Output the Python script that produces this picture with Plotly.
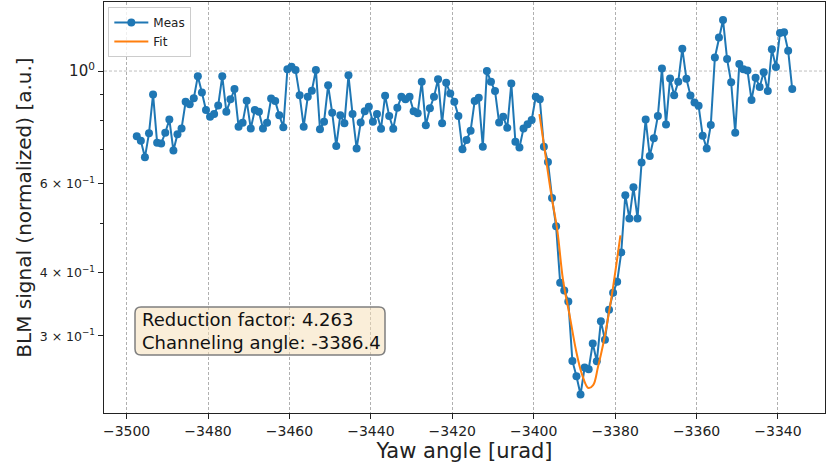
import plotly.graph_objects as go

# Yaw scan: start angle and step [urad]
yaw_start = -3497.5
yaw_step = 1.0

# Normalized BLM signal at each yaw step
blm_signal = [
    0.743, 0.728, 0.675, 0.753, 0.899, 0.721, 0.719, 0.755, 0.802, 0.696,
    0.750, 0.770, 0.869, 0.860, 0.883, 0.977, 0.907, 0.837, 0.812, 0.822,
    0.855, 0.977, 0.831, 0.879, 0.921, 0.776, 0.790, 0.873, 0.770, 0.837,
    0.831, 0.770, 0.790, 0.882, 0.872, 0.818, 0.774, 1.008, 1.020, 1.005,
    0.896, 0.776, 0.889, 0.914, 1.005, 0.767, 0.794, 0.937, 0.827, 0.711,
    0.818, 0.788, 0.981, 0.822, 0.703, 0.791, 0.833, 0.850, 0.794, 0.822,
    0.769, 0.894, 0.815, 0.769, 0.846, 0.889, 0.879, 0.889, 0.833, 0.825,
    0.952, 0.781, 0.844, 0.889, 0.963, 0.788, 0.948, 0.903, 0.869, 0.815,
    0.700, 0.730, 0.762, 0.872, 0.885, 0.708, 1.000, 0.952, 0.913, 0.791,
    0.812, 0.772, 0.945, 0.725, 0.706, 0.770, 0.785, 0.800, 0.889, 0.879,
    0.708, 0.661, 0.561, 0.493, 0.381, 0.368, 0.350, 0.267, 0.249, 0.229,
    0.259, 0.257, 0.289, 0.2665, 0.320, 0.294, 0.337, 0.364, 0.383, 0.4375,
    0.568, 0.511, 0.589, 0.511, 0.659, 0.802, 0.679, 0.736, 0.815, 1.012,
    0.784, 0.967, 0.896, 0.952, 1.107, 0.966, 0.895, 0.866, 0.854, 0.745,
    0.703, 0.782, 1.064, 1.165, 1.262, 1.056, 0.950, 0.755, 1.033, 1.008,
    1.003, 0.876, 0.970, 0.930, 0.995, 0.913, 1.104, 1.018, 1.189, 1.193,
    1.097, 0.921,
]
yaw_angle = [yaw_start + i * yaw_step for i in range(len(blm_signal))]

# Fitted channeling dip (sampled along the fitted curve)
fit_yaw = [-3398.6, -3397.3, -3395.6, -3394.2, -3392.8, -3391.1, -3389.6,
           -3388.2, -3386.6, -3385.4, -3384.2, -3382.9, -3381.7, -3380.5,
           -3378.7]
fit_signal = [0.822, 0.698, 0.564, 0.484, 0.386, 0.326, 0.280, 0.252,
              0.236, 0.239, 0.260, 0.289, 0.326, 0.374, 0.473]

reduction_factor = 4.263
channeling_angle = -3386.4

x_ticks = [-3500, -3480, -3460, -3440, -3420, -3400, -3380, -3360, -3340]
y_major = [0.3, 0.4, 0.6, 1.0]
y_major_text = ["3 × 10<sup>−1</sup>", "4 × 10<sup>−1</sup>",
                "6 × 10<sup>−1</sup>", "10<sup>0</sup>"]
y_minor = [0.5, 0.7, 0.8, 0.9]

BLUE = "#1f77b4"
ORANGE = "#ff7f0e"
FONT = "DejaVu Sans"

W, H = 827, 469
ML, MR, MT, MB = 104, 2, 2, 56
PW, PH = W - ML - MR, H - MT - MB

fig = go.Figure()
fig.add_trace(go.Scatter(
    x=yaw_angle, y=blm_signal, name="Meas", mode="lines+markers",
    line=dict(color=BLUE, width=2),
    marker=dict(color=BLUE, size=8),
))
fig.add_trace(go.Scatter(
    x=fit_yaw, y=fit_signal, name="Fit", mode="lines",
    line=dict(color=ORANGE, width=2, shape="spline"),
))

# The 10^0 label is drawn larger than the in-decade labels
y_text = [("<span style='font-size:12.5px'>%s</span>" % t) if v < 1 else t
          for v, t in zip(y_major, y_major_text)]

GRID = "#b0b0b0"
fig.update_layout(
    width=W, height=H,
    margin=dict(l=ML, r=MR, t=MT, b=MB),
    paper_bgcolor="white", plot_bgcolor="white",
    font=dict(family=FONT, color="#222"),
    showlegend=True,
    legend=dict(
        x=0.006, y=0.988, xanchor="left", yanchor="top",
        bgcolor="rgba(255,255,255,0.8)", bordercolor="#cccccc", borderwidth=1,
        font=dict(size=12, family=FONT), itemwidth=34,
        tracegroupgap=0,
    ),
    xaxis=dict(
        range=[-3505.55, -3328.45],
        tickmode="array", tickvals=x_ticks,
        ticktext=[str(t).replace("-", "−") for t in x_ticks],
        tickfont=dict(size=14, family=FONT),
        ticks="outside", ticklen=5, tickcolor="#222", tickwidth=1,
        showgrid=True, gridcolor=GRID, griddash="3px,2px", gridwidth=0.8,
        showline=True, linecolor="#222", linewidth=1.2, mirror=True,
        zeroline=False,
        title=dict(text="Yaw angle [urad]", font=dict(size=21, family=FONT),
                   standoff=4),
    ),
    yaxis=dict(
        type="log",
        range=[-0.6766, 0.1366],
        tickmode="array", tickvals=y_major, ticktext=y_text,
        tickfont=dict(size=15, family=FONT),
        ticks="outside", ticklen=5, tickcolor="#222", tickwidth=1,
        minor=dict(tickmode="array", tickvals=y_minor, ticks="outside",
                   ticklen=3, tickcolor="#222", showgrid=False),
        showgrid=False,
        showline=True, linecolor="#222", linewidth=1.2, mirror=True,
        zeroline=False,
        title=dict(text="BLM signal (normalized) [a.u.]",
                   font=dict(size=20, family=FONT), standoff=2),
    ),
)

# Major horizontal grid line at 10^0
fig.add_shape(type="line", xref="paper", x0=0, x1=1, yref="y", y0=1.0, y1=1.0,
              line=dict(color=GRID, width=0.8, dash="3px,2px"), layer="below")


def px_to_paper(px, py):
    return (px - ML) / PW, (H - MB - py) / PH


def rounded_box(x0, y0, x1, y1, r):
    """SVG path (paper coords) for a rounded rectangle given in pixels."""
    def P(px, py):
        a, b = px_to_paper(px, py)
        return "%.5f,%.5f" % (a, b)
    pts = [
        "M" + P(x0 + r, y0),
        "L" + P(x1 - r, y0),
        "Q" + P(x1, y0) + " " + P(x1, y0 + r),
        "L" + P(x1, y1 - r),
        "Q" + P(x1, y1) + " " + P(x1 - r, y1),
        "L" + P(x0 + r, y1),
        "Q" + P(x0, y1) + " " + P(x0, y1 - r),
        "L" + P(x0, y0 + r),
        "Q" + P(x0, y0) + " " + P(x0 + r, y0),
    ]
    return " ".join(pts) + " Z"


# Result box
box_l, box_t, box_r, box_b = 135, 307, 385, 355
fig.add_shape(type="path", xref="paper", yref="paper",
              path=rounded_box(box_l, box_t, box_r, box_b, 6),
              fillcolor="rgba(245,222,179,0.5)",
              line=dict(color="#7f7f7f", width=1.5), layer="above")
ax, ay = px_to_paper(box_l + 5, (box_t + box_b) / 2)
fig.add_annotation(
    xref="paper", yref="paper", x=ax, y=ay,
    xanchor="left", yanchor="middle", align="left", showarrow=False,
    text="Reduction factor: %.3f<br>Channeling angle: %.1f"
         % (reduction_factor, channeling_angle),
    font=dict(size=18, family=FONT, color="#111"),
)

fig.write_html("out.html")
